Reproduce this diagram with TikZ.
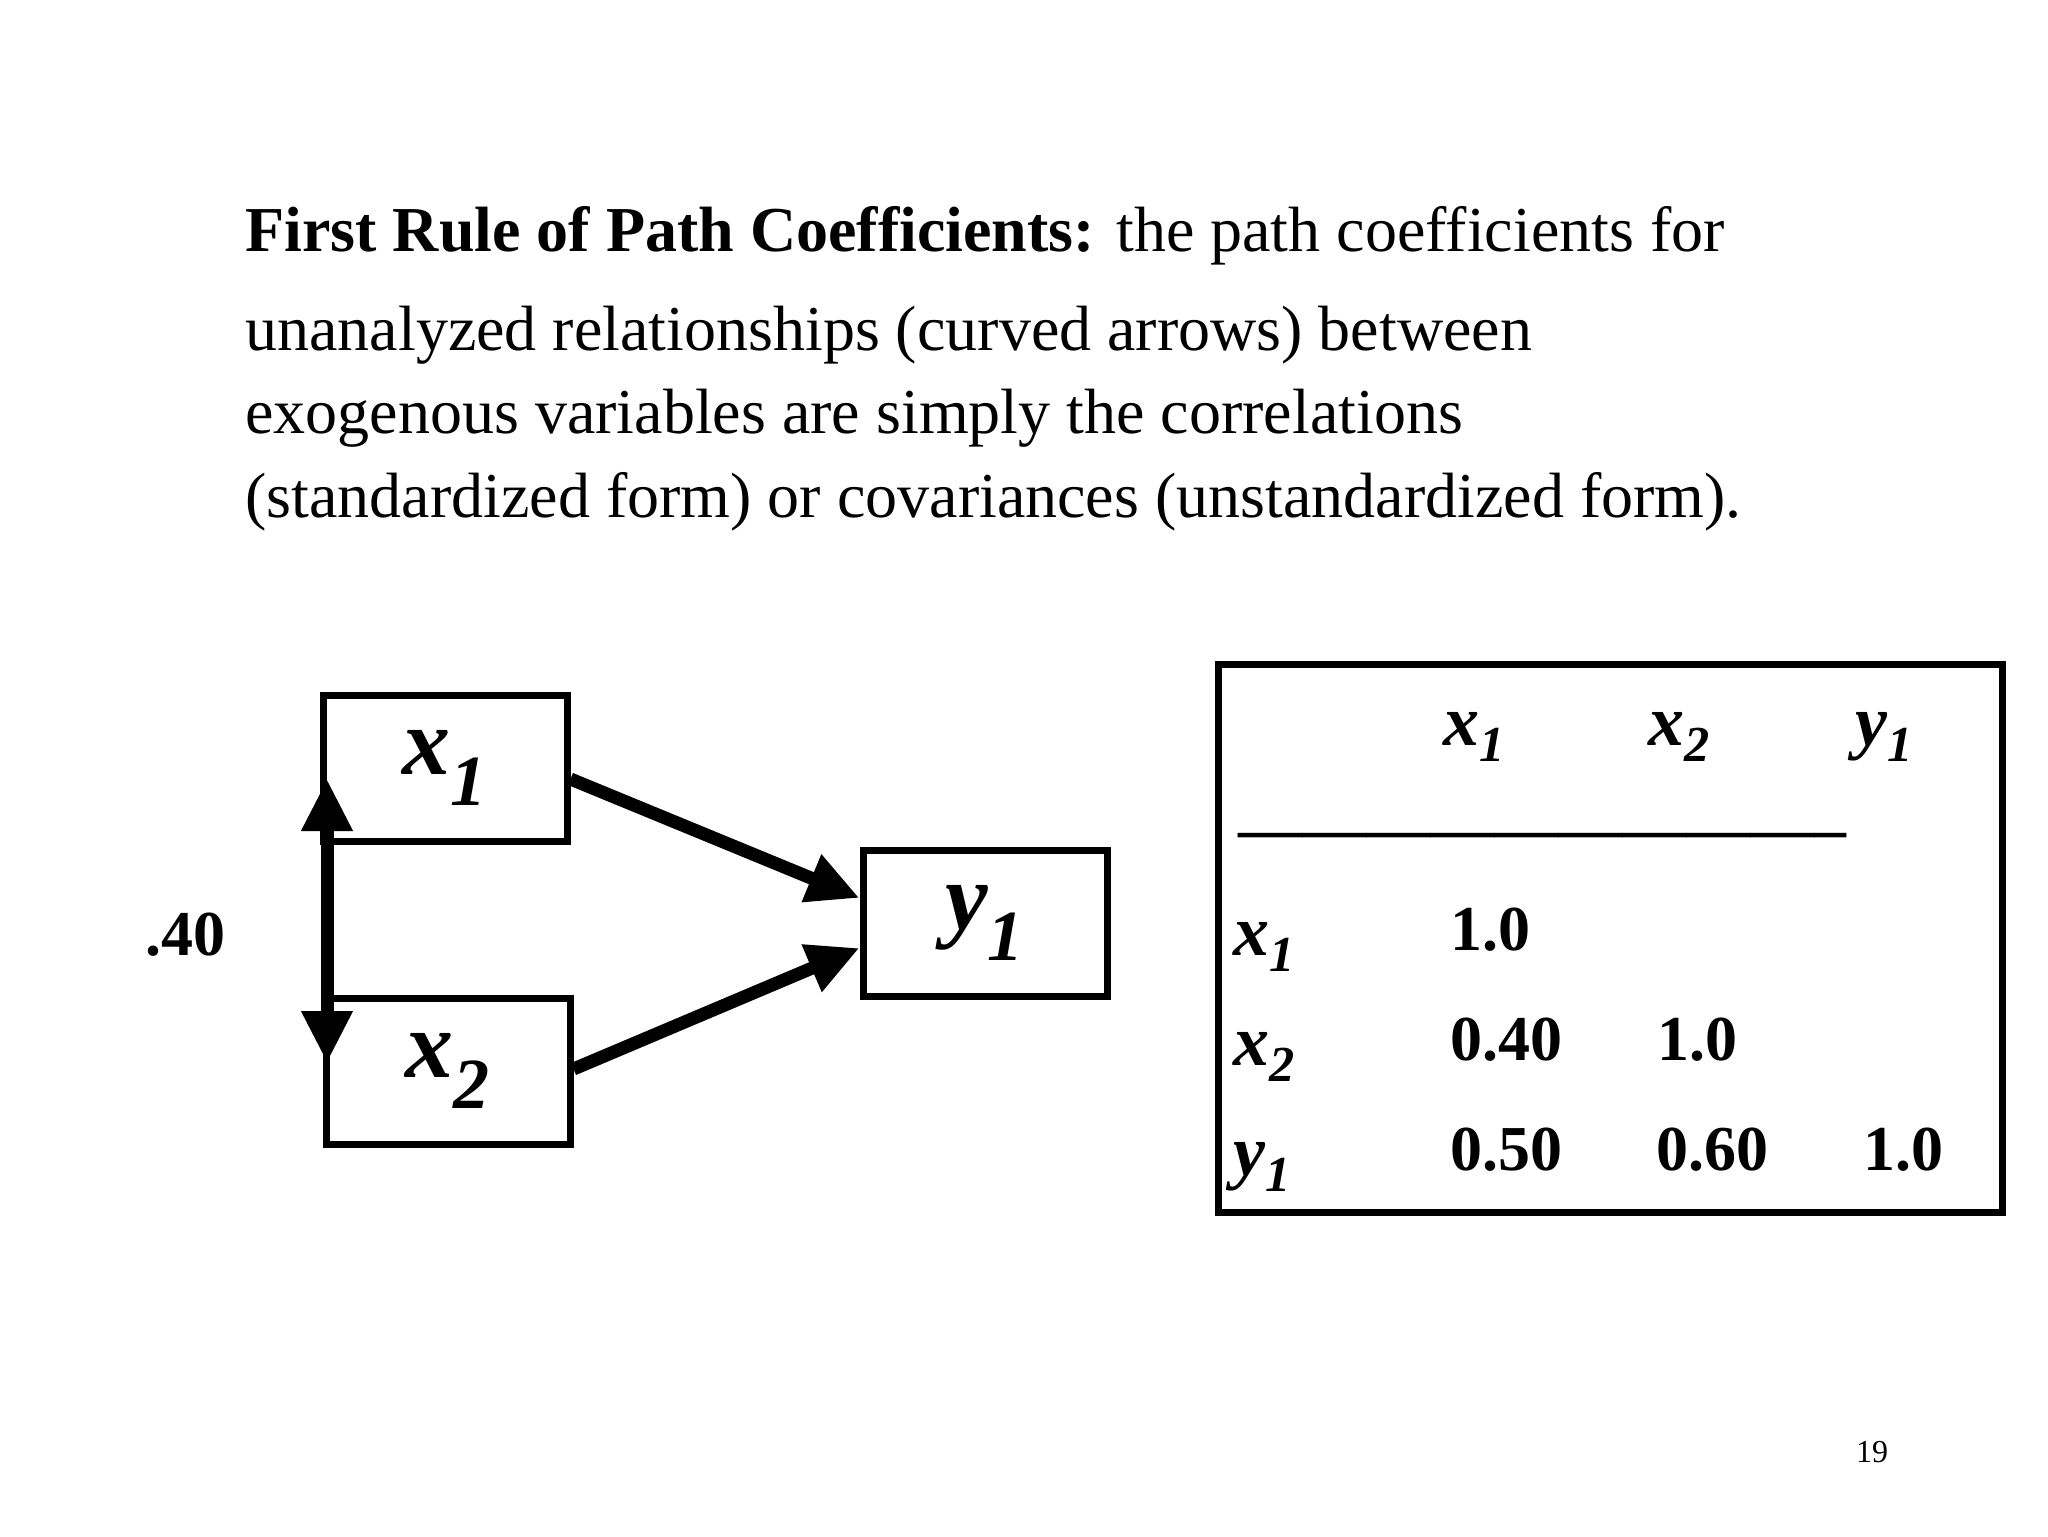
\documentclass[tikz,border=0pt]{standalone}
\usepackage{fontspec}
\setmainfont{Liberation Serif}
\usetikzlibrary{arrows.meta}
\begin{document}
\begin{tikzpicture}[x=0.5pt,y=-0.5pt,
 vbox/.style={draw,line width=3.5pt,minimum width=122pt,minimum height=73pt,inner sep=0pt,font=\fontsize{48}{50}\selectfont\bfseries\itshape},
 arr/.style={line width=6.5pt,-{Triangle[length=26pt,width=24pt]}},
 tl/.style={anchor=base west,inner sep=0pt,font=\fontsize{32}{36}\selectfont},
 tv/.style={anchor=base,inner sep=0pt,font=\fontsize{32}{36}\selectfont\bfseries},
 th/.style={anchor=base,inner sep=0pt,font=\fontsize{36}{40}\selectfont\bfseries\itshape}]
\useasboundingbox (0,0) rectangle (2048,1536);
\node[tl] (t1) at (245,251) {\textbf{First Rule of Path Coefficients:} the path coefficients for};
\node[tl] (t2) at (245,350) {unanalyzed relationships (curved arrows) between};
\node[tl] (t3) at (245,433) {exogenous variables are simply the correlations};
\node[tl] (t4) at (245,517) {(standardized form) or covariances (unstandardized form).};
\node[vbox] (x1) at (445,768) {x\textsubscript{\fontsize{36}{40}\selectfont 1}};
\node[vbox] (x2) at (448,1071) {x\textsubscript{\fontsize{36}{40}\selectfont 2}};
\node[vbox] (y1) at (985,923) {y\textsubscript{\fontsize{36}{40}\selectfont 1}};
\draw[arr] (x1.east|-570,779) -- (y1.west|-0,898);
\draw[arr] (x2.east|-570,1069) -- (y1.west|-0,948);
\coordinate (a1) at (327,779);
\coordinate (a2) at (327,1063);
\draw[line width=6.5pt,{Triangle[length=26pt,width=24pt]}-{Triangle[length=26pt,width=24pt]}] (a1) -- (a2);
\node[tv] (r) at (185,955) {.40};
\node[draw,line width=3.5pt,minimum width=392pt,minimum height=274pt,inner sep=0pt] (tab) at (1610,938.5) {};
\node[th] (h1) at (1475,745) {x\textsubscript{1}};
\node[th] (h2) at (1680,745) {x\textsubscript{2}};
\node[th] (h3) at (1885,745) {y\textsubscript{1}};
\node[tv,anchor=base west] (dash) at (1238,850) {-----------------------------};
\node[th,anchor=base west] (l1) at (1233,955) {x\textsubscript{1}};
\node[th,anchor=base west] (l2) at (1233,1065) {x\textsubscript{2}};
\node[th,anchor=base west] (l3) at (1233,1175) {y\textsubscript{1}};
\node[tv] (v11) at (1490,950) {1.0};
\node[tv] (v21) at (1506,1060) {0.40};
\node[tv] (v22) at (1697,1060) {1.0};
\node[tv] (v31) at (1506,1170) {0.50};
\node[tv] (v32) at (1712,1170) {0.60};
\node[tv] (v33) at (1903,1170) {1.0};
\node[anchor=base,inner sep=0pt,font=\fontsize{16}{18}\selectfont] (pg) at (1872,1462) {19};
\end{tikzpicture}
\end{document}
